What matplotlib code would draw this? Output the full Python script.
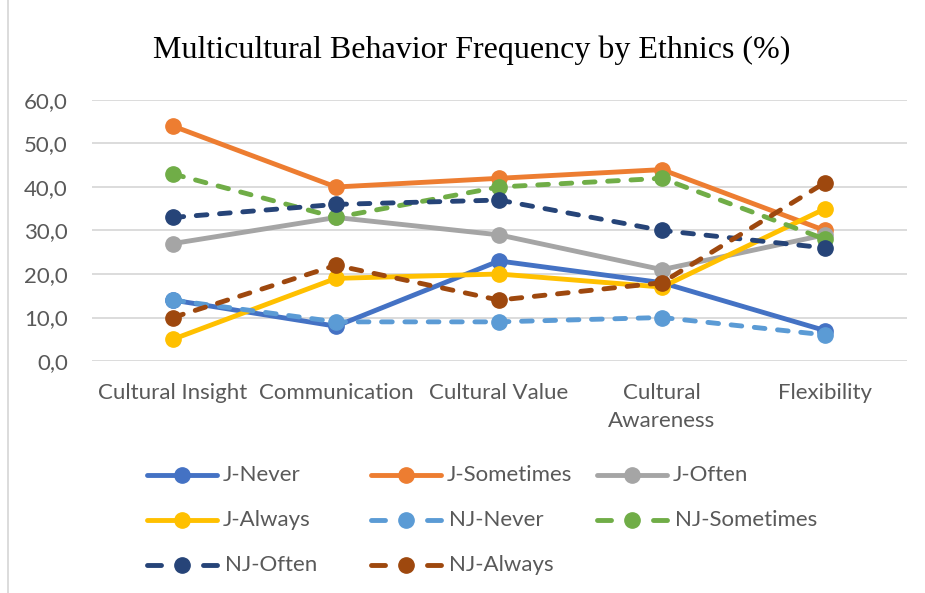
import matplotlib.pyplot as plt
from matplotlib.lines import Line2D

categories = ["Cultural Insight", "Communication", "Cultural Value", "Cultural\nAwareness", "Flexibility"]

j_never = [14, 8, 23, 18, 7]
j_sometimes = [54, 40, 42, 44, 30]
j_often = [27, 33, 29, 21, 29]
j_always = [5, 19, 20, 17, 35]
nj_never = [14, 9, 9, 10, 6]
nj_sometimes = [43, 33, 40, 42, 28]
nj_often = [33, 36, 37, 30, 26]
nj_always = [10, 22, 14, 18, 41]

series_names = ["J-Never", "J-Sometimes", "J-Often", "J-Always",
                "NJ-Never", "NJ-Sometimes", "NJ-Often", "NJ-Always"]
series_values = [j_never, j_sometimes, j_often, j_always,
                 nj_never, nj_sometimes, nj_often, nj_always]
colors = ["#4472C4", "#ED7D31", "#A5A5A5", "#FFC000",
          "#5B9BD5", "#70AD47", "#264478", "#9E480E"]
dashed = [False, False, False, False, True, True, True, True]

W, H = 925, 593
fig = plt.figure(figsize=(W / 100, H / 100), dpi=100)
ax = fig.add_axes([91.5 / W, 1 - 361 / H, (906.5 - 91.5) / W, (361 - 100) / H])

LW, MS = 3.5, 11
x = list(range(len(categories)))
for name, vals, c, d in zip(series_names, series_values, colors, dashed):
    kw = dict(color=c, lw=LW, marker="o", markersize=MS, solid_capstyle="round")
    if d:
        kw.update(ls=(0, (2.2, 2.6)), dash_capstyle="round")
    ax.plot(x, vals, **kw)

ax.set_xlim(-0.5, 4.5)
ax.set_ylim(0, 60)
ax.set_yticks(range(0, 61, 10))
ax.set_yticklabels([f"{v},0" for v in range(0, 61, 10)])
ax.set_xticks(x)
ax.set_xticklabels(categories)
ax.grid(axis="y", color="#D9D9D9", lw=1.3)
ax.set_axisbelow(True)
for s in ax.spines.values():
    s.set_visible(False)
ax.tick_params(axis="y", length=0, pad=17, labelsize=16, labelcolor="#595959")
ax.tick_params(axis="x", length=0, pad=16, labelsize=16, labelcolor="#595959")
for lab in ax.get_xticklabels() + ax.get_yticklabels():
    lab.set_fontfamily("Lato")
    lab.set_linespacing(1.5)

fig.text(472 / W, 1 - 50 / H, "Multicultural Behavior Frequency by Ethnics (%)",
         ha="center", va="center", fontsize=23, family="Liberation Serif", color="black")

# legend drawn by hand: 3 columns x 3 rows
col_x = [147, 371, 597]
row_y = [475, 520, 565]
for i, (name, c, d) in enumerate(zip(series_names, colors, dashed)):
    cx = col_x[i % 3]
    cy = 1 - row_y[i // 3] / H
    x0, x1 = cx / W, (cx + 70) / W
    kw = dict(color=c, lw=LW, solid_capstyle="round")
    if d:
        fig.add_artist(Line2D([x0, x0 + 14 / W], [cy, cy], **kw))
        fig.add_artist(Line2D([x1 - 14 / W, x1], [cy, cy], **kw))
    else:
        fig.add_artist(Line2D([x0, x1], [cy, cy], **kw))
    fig.add_artist(Line2D([(x0 + x1) / 2], [cy], color=c, marker="o", markersize=MS, lw=0))
    tx = cx + (76 if not d else 78)
    fig.text(tx / W, cy, name, ha="left", va="center", fontsize=16,
             family="Lato", color="#595959")

fig.add_artist(Line2D([8 / W, 8 / W], [0, 1], color="#D9D9D9", lw=1.3))

fig.savefig("out.png", dpi=100)
